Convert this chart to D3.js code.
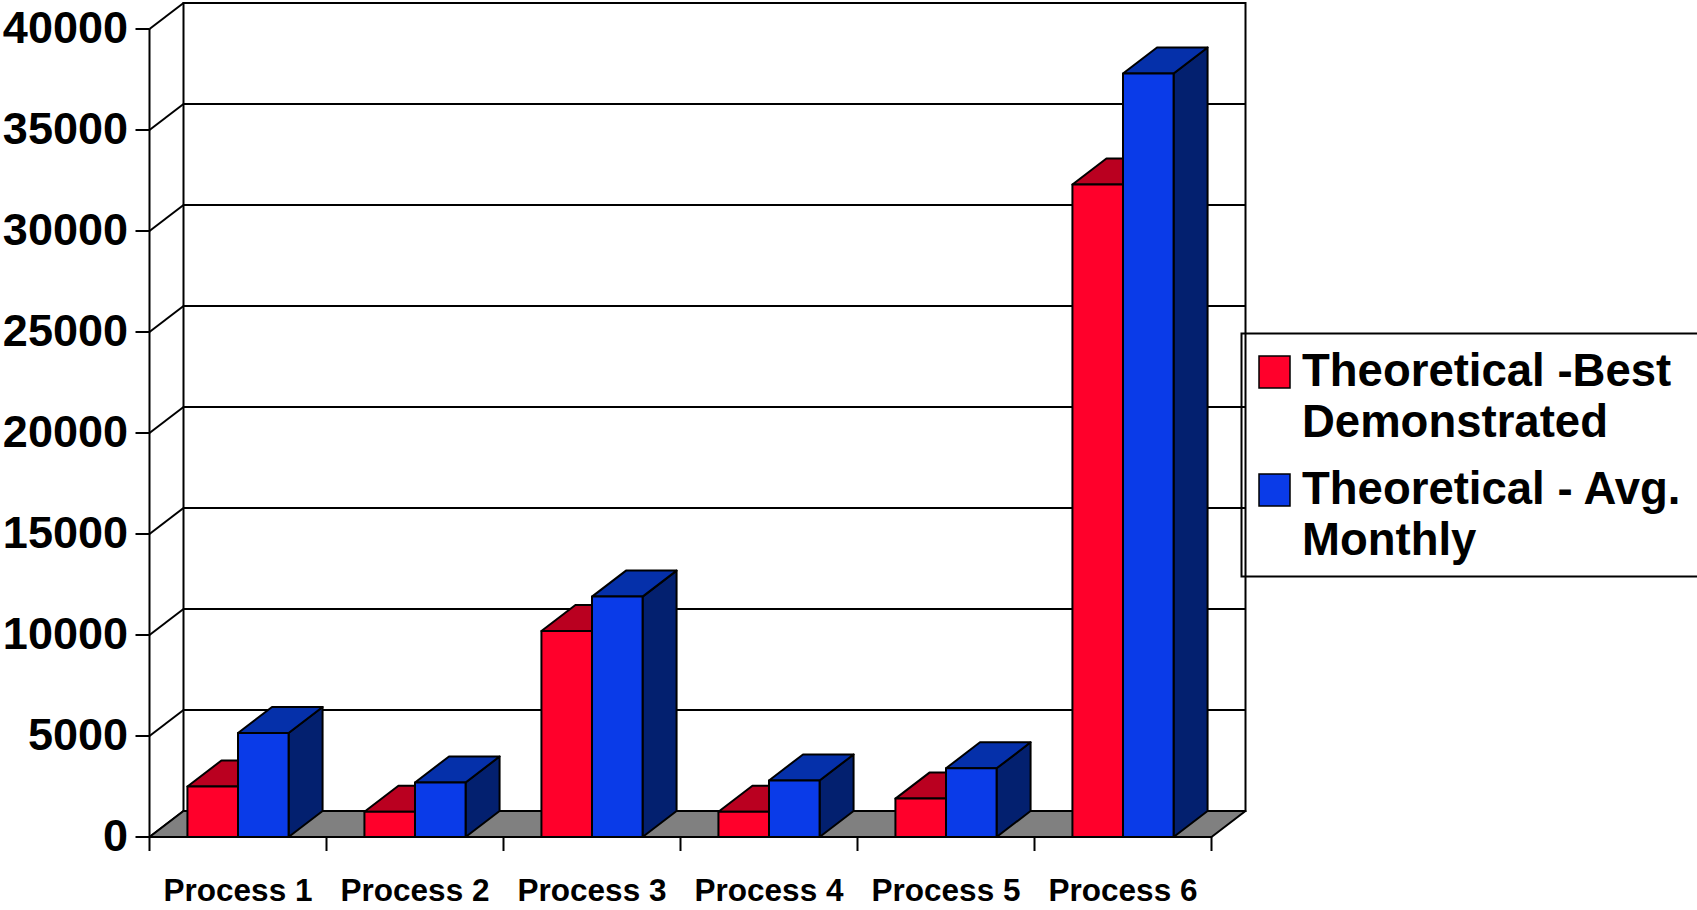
<!DOCTYPE html>
<html>
<head>
<meta charset="utf-8">
<script src="https://cdn.jsdelivr.net/npm/d3@7"></script>
<style>
    html, body { margin: 0; padding: 0; background: #fff; }
    svg { display: block; font-family: Arial, "Liberation Sans", sans-serif; font-weight: bold; }
</style>
</head>
<body>
<svg width="1697" height="910"></svg>
<script>
const categories = ["Process 1", "Process 2", "Process 3", "Process 4", "Process 5", "Process 6"];
const seriesNames = ["Theoretical -Best Demonstrated", "Theoretical - Avg. Monthly"];
const legendLines = [["Theoretical -Best", "Demonstrated"], ["Theoretical - Avg.", "Monthly"]];
const bestDemonstrated = [2500, 1250, 10200, 1250, 1900, 32300];
const avgMonthly = [5150, 2700, 11900, 2800, 3400, 37800];
const yTicks = [0, 5000, 10000, 15000, 20000, 25000, 30000, 35000, 40000];

window.addEventListener('load', () => {
    const svg = d3.select("svg");
    const depth = { dx: 34, dy: -26 };
    const colors = [
        { front: "#ff002b", top: "#ba0020", side: "#80001a" },
        { front: "#0a3be8", top: "#0530aa", side: "#03206f" }
    ];

    const x = d3.scaleBand()
        .domain(categories)
        .range([149.5, 1211.5])
        .paddingInner(0)
        .paddingOuter(0);

    const xs = d3.scaleBand()
        .domain(seriesNames)
        .range([0, x.bandwidth()])
        .paddingOuter(0.75);

    const y = d3.scaleLinear()
        .domain([0, 40000])
        .range([837, 29]);

    const x0 = x.range()[0], x1 = x.range()[1];
    const line = d3.line();

    // back wall
    svg.append("rect")
        .attr("x", x0 + depth.dx)
        .attr("y", y(40000) + depth.dy)
        .attr("width", x1 - x0)
        .attr("height", y(0) - y(40000))
        .attr("fill", "#fff")
        .attr("stroke", "#000")
        .attr("stroke-width", 2);

    // grid on back wall + side wall
    const grid = svg.append("g").attr("stroke", "#000").attr("stroke-width", 2).attr("fill", "none");
    yTicks.forEach(t => {
        grid.append("path").attr("d", line([[x0 + depth.dx, y(t) + depth.dy], [x1 + depth.dx, y(t) + depth.dy]]));
        grid.append("path").attr("d", line([[x0, y(t)], [x0 + depth.dx, y(t) + depth.dy]]));
        grid.append("path").attr("d", line([[x0 - 14, y(t)], [x0, y(t)]]));
    });
    grid.append("path").attr("d", line([[x0, y(40000)], [x0, y(0) + 14]]));

    // floor
    svg.append("path")
        .attr("d", line([[x0, y(0)], [x1, y(0)], [x1 + depth.dx, y(0) + depth.dy], [x0 + depth.dx, y(0) + depth.dy]]) + "Z")
        .attr("fill", "#808080")
        .attr("stroke", "#000")
        .attr("stroke-width", 2)
        .attr("stroke-linejoin", "round");

    // category ticks
    categories.forEach((c, i) => {
        const cx = x(c) + x.bandwidth();
        grid.append("path").attr("d", line([[cx, y(0)], [cx, y(0) + 14]]));
    });

    // bars
    const series = [bestDemonstrated, avgMonthly];
    const bars = svg.append("g")
        .attr("stroke", "#000")
        .attr("stroke-width", 2)
        .attr("stroke-linejoin", "round");

    categories.forEach((c, i) => {
        series.forEach((vals, s) => {
            const bx = x(c) + xs(seriesNames[s]);
            const bw = xs.bandwidth();
            const top = y(vals[i]);
            const bottom = y(0);
            const col = colors[s];
            bars.append("path")
                .attr("d", line([[bx + bw, bottom], [bx + bw + depth.dx, bottom + depth.dy], [bx + bw + depth.dx, top + depth.dy], [bx + bw, top]]) + "Z")
                .attr("fill", col.side);
            bars.append("path")
                .attr("d", line([[bx, top], [bx + bw, top], [bx + bw + depth.dx, top + depth.dy], [bx + depth.dx, top + depth.dy]]) + "Z")
                .attr("fill", col.top);
            bars.append("rect")
                .attr("x", bx)
                .attr("y", top)
                .attr("width", bw)
                .attr("height", bottom - top)
                .attr("fill", col.front);
        });
    });

    // y labels
    svg.append("g")
        .selectAll("text")
        .data(yTicks)
        .join("text")
        .attr("x", 128)
        .attr("y", d => y(d))
        .attr("dy", "0.3em")
        .attr("text-anchor", "end")
        .attr("font-size", 45)
        .text(d => d);

    // x labels
    svg.append("g")
        .selectAll("text")
        .data(categories)
        .join("text")
        .attr("x", d => x(d) + x.bandwidth() / 2)
        .attr("y", 901)
        .attr("text-anchor", "middle")
        .attr("font-size", 31.5)
        .text(d => d);

    // legend
    const legend = svg.append("g");
    legend.append("rect")
        .attr("x", 1241.5)
        .attr("y", 333.5)
        .attr("width", 470)
        .attr("height", 243)
        .attr("fill", "none")
        .attr("stroke", "#000")
        .attr("stroke-width", 2);

    legendLines.forEach((lines, s) => {
        const gy = 386 + s * 118;
        legend.append("rect")
            .attr("x", 1259)
            .attr("y", gy - 30)
            .attr("width", 31)
            .attr("height", 32)
            .attr("fill", colors[s].front)
            .attr("stroke", "#000")
            .attr("stroke-width", 1.5);
        lines.forEach((t, k) => {
            legend.append("text")
                .attr("x", 1302)
                .attr("y", gy + k * 51)
                .attr("font-size", 45.5)
                .text(t);
        });
    });
});
</script>
</body>
</html>
